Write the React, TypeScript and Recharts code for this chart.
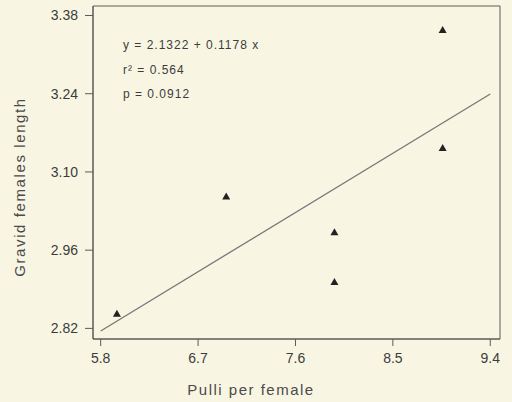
import { ScatterChart, Scatter, XAxis, YAxis, ReferenceLine, ReferenceArea, Customized } from "recharts";

const pulli = [5.95, 6.96, 7.96, 7.96, 8.96, 8.96];
const femaleLength = [2.846, 3.056, 2.992, 2.903, 3.354, 3.143];

const xTicks = [5.8, 6.7, 7.6, 8.5, 9.4];
const yTicks = [2.82, 2.96, 3.1, 3.24, 3.38];

const xDomain = [5.729, 9.49];
const yDomain = [2.801, 3.397];

const fitIntercept = 2.1322;
const fitSlope = 0.1178;
const fitRange = [5.8, 9.4];

const statLines = ["y = 2.1322 + 0.1178 x", "r² = 0.564", "p = 0.0912"];

const points = pulli.map((x, i) => ({ x, y: femaleLength[i] }));
const fitSegment = fitRange.map((x) => ({ x, y: fitIntercept + fitSlope * x }));

const font = "'Liberation Sans', Arial, sans-serif";
const ink = "#3c3c3c";
const axisColor = "#5a5a5a";

function Triangle(props: any) {
  const { cx, cy } = props;
  return (
    <polygon
      points={`${cx},${cy - 4} ${cx + 4},${cy + 3} ${cx - 4},${cy + 3}`}
      fill="#222"
    />
  );
}

function Annotations() {
  const baselines = [49, 74, 98];
  return (
    <g fontFamily={font} fill={ink}>
      {statLines.map((s, i) => (
        <text key={s} x={123} y={baselines[i]} fontSize={12} letterSpacing={1}>
          {s}
        </text>
      ))}
      <text x={251} y={395} fontSize={15} letterSpacing={1.5} textAnchor="middle" fill="#4a4a4a">
        Pulli per female
      </text>
      <text
        x={25}
        y={187}
        fontSize={15}
        letterSpacing={1.6}
        textAnchor="middle"
        fill="#4a4a4a"
        transform="rotate(-90 25 187)"
      >
        Gravid females length
      </text>
    </g>
  );
}

export default function App() {
  return (
    <div style={{ position: "absolute", left: 0, top: 0, width: 512, height: 402, background: "#f8f6e3" }}>
      <ScatterChart width={512} height={402} margin={{ top: 6, right: 12, left: 0, bottom: 0 }}>
        <XAxis
          type="number"
          dataKey="x"
          domain={xDomain}
          ticks={xTicks}
          tickFormatter={(v: number) => v.toFixed(1)}
          height={63}
          tickSize={7}
          tickMargin={7}
          stroke={axisColor}
          tick={{ fill: ink, fontSize: 14, fontFamily: font }}
          allowDataOverflow
        />
        <YAxis
          type="number"
          dataKey="y"
          domain={yDomain}
          ticks={yTicks}
          tickFormatter={(v: number) => v.toFixed(2)}
          width={93}
          tickSize={8}
          tickMargin={7}
          stroke={axisColor}
          tick={{ fill: ink, fontSize: 14, fontFamily: font }}
          allowDataOverflow
        />
        <ReferenceArea
          x1={xDomain[0]}
          x2={xDomain[1]}
          y1={yDomain[0]}
          y2={yDomain[1]}
          fill="none"
          fillOpacity={0}
          stroke={axisColor}
          strokeWidth={1}
          ifOverflow="visible"
        />
        <ReferenceLine
          segment={fitSegment}
          stroke="#777"
          strokeWidth={1.3}
          ifOverflow="visible"
        />
        <Scatter data={points} shape={Triangle} isAnimationActive={false} />
        <Customized component={Annotations} />
      </ScatterChart>
    </div>
  );
}
